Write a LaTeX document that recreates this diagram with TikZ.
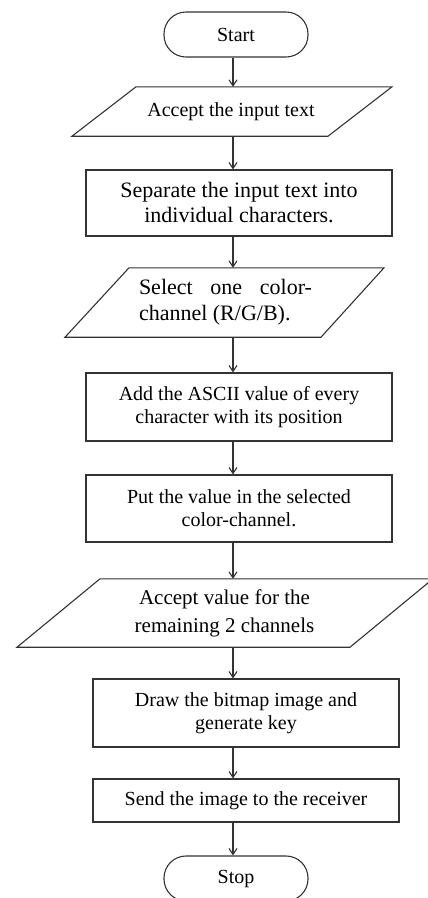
\documentclass[tikz,border=0pt]{standalone}
\usepackage{fontspec}
\setmainfont{Liberation Serif}
\usetikzlibrary{arrows.meta,calc}
\begin{document}
\begin{tikzpicture}[x=1pt,y=-1pt,
  line/.style={draw=black!80, line width=1.1pt},
  term/.style={line, rectangle, rounded corners=22pt, minimum width=144pt,
    minimum height=45pt, inner sep=0pt, font=\fontsize{20}{23}\selectfont},
  procbox/.style={line, rectangle, minimum width=306pt, inner sep=0pt,
    align=center, font=\fontsize{20}{23}\selectfont},
  iotext/.style={rectangle, inner sep=0pt, align=center,
    font=\fontsize{20}{23}\selectfont},
  arr/.style={line, -{Straight Barb[length=6pt,width=8pt]}}]
\useasboundingbox (0,0) rectangle (428,898);
\clip (0,0) rectangle (428,898);
\coordinate (axis) at (233,0);

% terminals and steps, top to bottom
\node[term] (start) at (236,34.5) {Start};
\node[iotext, minimum height=49pt] (in1) at (231,111.5) {Accept the input text};
\node[procbox, minimum height=66pt, font=\fontsize{22}{25}\selectfont] (sep) at (239,203)
  {Separate the input text into\\individual characters.};
\node[iotext, minimum height=69pt, align=left, font=\fontsize{22}{26}\selectfont] (sel) at (225.5,302.5)
  {\makebox[173pt][s]{Select one color-}\\channel (R/G/B).};
\node[procbox, minimum height=68pt] (add) at (239,407)
  {Add the ASCII value of every\\character with its position};
\node[procbox, minimum height=67pt] (put) at (239,508.5)
  {Put the value in the selected\\color-channel.};
\node[iotext, minimum height=68pt, font=\fontsize{21}{28}\selectfont] (rem) at (224.5,613)
  {Accept value for the\\remaining 2 channels};
\node[procbox, minimum height=68pt] (bmp) at (246,713)
  {Draw the bitmap image and\\generate key};
\node[procbox, minimum height=43pt] (send) at (246,800.5)
  {Send the image to the receiver};
\node[term] (stop) at (236,878.5) {Stop};

% input/output parallelograms around their text nodes
\draw[line] ($(in1.north -| axis)+(-97,0)$) -- ++(256,0)
  -- ($(in1.south -| axis)+(95,0)$) -- ++(-256,0) -- cycle;
\draw[line] ($(sel.north -| axis)+(-104,0)$) -- ++(255,0)
  -- ($(sel.south -| axis)+(88,0)$) -- ++(-256,0) -- cycle;
\draw[line] ($(rem.north -| axis)+(-133,0)$) -- ++(333,0)
  -- ($(rem.south -| axis)+(117,0)$) -- ++(-333,0) -- cycle;

% flow connectors
\draw[arr] (start.south -| axis) -- (in1.north -| axis);
\draw[arr] (in1.south -| axis) -- (sep.north -| axis);
\draw[arr] (sep.south -| axis) -- (sel.north -| axis);
\draw[arr] (sel.south -| axis) -- (add.north -| axis);
\draw[arr] (add.south -| axis) -- (put.north -| axis);
\draw[arr] (put.south -| axis) -- (rem.north -| axis);
\draw[arr] (rem.south -| axis) -- (bmp.north -| axis);
\draw[arr] (bmp.south -| axis) -- (send.north -| axis);
\draw[arr] (send.south -| axis) -- (stop.north -| axis);
\end{tikzpicture}
\end{document}
